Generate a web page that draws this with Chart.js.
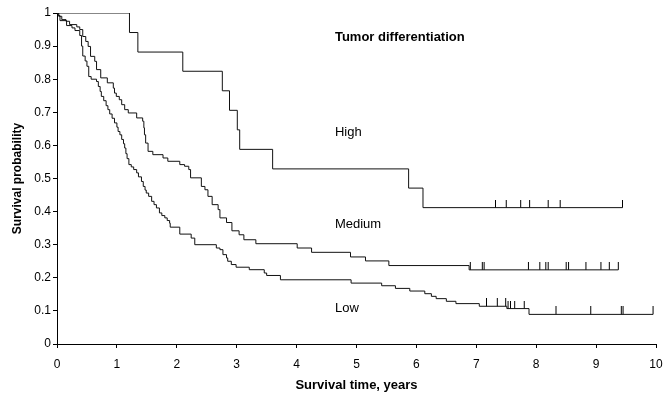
<!DOCTYPE html>
<html>
<head>
<meta charset="utf-8">
<script src="https://cdn.jsdelivr.net/npm/chart.js@4/dist/chart.umd.min.js"></script>
<style>
  html, body { margin: 0; padding: 0; background: #fff; }
  #wrap { width: 667px; height: 397px; }
</style>
</head>
<body>
<div id="wrap"><canvas id="km"></canvas></div>
<script>
// Kaplan-Meier survival estimates by tumour differentiation grade
const groups = ['High', 'Medium', 'Low'];

const highTimes = [0, 1.21, 1.35, 2.10, 2.76, 2.88, 3.01, 3.05, 3.60, 5.87, 6.11, 9.44];
const highSurv  = [1, 0.941, 0.882, 0.824, 0.765, 0.706, 0.647, 0.588, 0.529, 0.471, 0.412, 0.412];
const highCensored = [7.32, 7.50, 7.74, 7.89, 8.20, 8.40, 9.44];

const mediumTimes = [0, 0.03, 0.08, 0.15, 0.21, 0.33, 0.38, 0.43, 0.48, 0.52, 0.56, 0.63, 0.66, 0.73,
  0.84, 0.94, 0.96, 0.99, 1.04, 1.08, 1.13, 1.19, 1.33, 1.43, 1.45, 1.46, 1.48, 1.52, 1.60, 1.77,
  1.85, 2.05, 2.13, 2.20, 2.23, 2.41, 2.47, 2.52, 2.59, 2.69, 2.72, 2.83, 2.92, 3.04, 3.12, 3.32,
  4.01, 4.25, 4.90, 5.15, 5.54, 6.88, 9.37];
const mediumSurv = [1, 0.990, 0.980, 0.975, 0.965, 0.958, 0.950, 0.929, 0.914, 0.899, 0.869, 0.854, 0.829, 0.804,
  0.789, 0.773, 0.758, 0.748, 0.738, 0.723, 0.708, 0.698, 0.683, 0.673, 0.653, 0.632, 0.607, 0.582, 0.572, 0.562,
  0.552, 0.542, 0.537, 0.527, 0.502, 0.476, 0.466, 0.446, 0.421, 0.406, 0.381, 0.367, 0.342, 0.330, 0.315, 0.303,
  0.290, 0.277, 0.263, 0.251, 0.237, 0.224, 0.224];
const mediumCensored = [6.90, 7.10, 7.13, 7.87, 8.06, 8.16, 8.20, 8.50, 8.54, 8.83, 9.08, 9.22, 9.37];

const lowTimes = [0, 0.02, 0.05, 0.16, 0.25, 0.30, 0.38, 0.41, 0.43, 0.47, 0.50, 0.53, 0.57, 0.66, 0.69,
  0.72, 0.74, 0.78, 0.82, 0.85, 0.88, 0.92, 0.96, 1.00, 1.02, 1.05, 1.08, 1.11, 1.13, 1.15, 1.17,
  1.20, 1.24, 1.28, 1.33, 1.36, 1.41, 1.44, 1.47, 1.49, 1.53, 1.58, 1.62, 1.66, 1.71, 1.75, 1.80,
  1.84, 1.88, 1.89, 2.05, 2.24, 2.30, 2.66, 2.72, 2.77, 2.83, 2.85, 2.91, 2.99, 3.21, 3.46, 3.50,
  3.73, 4.91, 5.42, 5.65, 5.89, 6.14, 6.25, 6.33, 6.50, 6.66, 7.05, 7.51, 7.88, 9.95];
const lowSurv = [1, 0.992, 0.977, 0.962, 0.955, 0.947, 0.932, 0.900, 0.870, 0.855, 0.839, 0.808, 0.800, 0.793, 0.778,
  0.763, 0.748, 0.735, 0.720, 0.708, 0.695, 0.682, 0.668, 0.655, 0.642, 0.632, 0.618, 0.605, 0.592, 0.575, 0.560,
  0.542, 0.535, 0.527, 0.517, 0.505, 0.491, 0.476, 0.465, 0.456, 0.446, 0.431, 0.421, 0.411, 0.396, 0.388, 0.381,
  0.373, 0.365, 0.353, 0.332, 0.320, 0.300, 0.290, 0.285, 0.270, 0.260, 0.250, 0.240, 0.232, 0.2245, 0.2145, 0.207,
  0.194, 0.184, 0.176, 0.168, 0.160, 0.152, 0.144, 0.137, 0.129, 0.122, 0.114, 0.107, 0.0895, 0.0895];
const lowCensored = [7.17, 7.35, 7.49, 7.53, 7.57, 7.64, 7.80, 8.33, 8.91, 9.42, 9.45, 9.95];

const xTickLabels = ['0', '1', '2', '3', '4', '5', '6', '7', '8', '9', '10'];
const yTickLabels = ['0', '0.1', '0.2', '0.3', '0.4', '0.5', '0.6', '0.7', '0.8', '0.9', '1'];

// survival level of a step curve at time t
function levelAt(times, surv, t) {
  let s = surv[0];
  for (let i = 0; i < times.length; i++) {
    if (times[i] <= t) s = surv[i]; else break;
  }
  return s;
}

function curve(times, surv) {
  return times.map((t, i) => ({ x: t, y: surv[i] }));
}

function censorPoints(times, surv, cens) {
  return cens.map(t => ({ x: t, y: levelAt(times, surv, t) }));
}

// censoring mark: a short vertical stroke rising above the curve
const censorMark = document.createElement('canvas');
censorMark.width = 3;
censorMark.height = 16;
(function () {
  const c = censorMark.getContext('2d');
  c.fillStyle = '#000';
  c.fillRect(1, 0, 1, 8);
})();

const FONT = "'Liberation Sans', Arial, sans-serif";

// horizontal at the previous level, then drop at the event time
const stepLine = (label, data) => ({
  type: 'line', label, data, stepped: 'before',
  borderColor: '#111', borderWidth: 1, pointRadius: 0, fill: false, tension: 0
});
const censorSet = (label, data) => ({
  type: 'scatter', label, data, pointStyle: censorMark, pointRadius: 8,
  borderColor: '#000', backgroundColor: '#000'
});

const annotations = {
  id: 'kmText',
  afterDatasetsDraw(chart, args, opts) {
    const { ctx, scales: { x, y } } = chart;
    ctx.save();
    ctx.fillStyle = '#000';
    ctx.textBaseline = 'middle';
    ctx.textAlign = 'left';
    opts.items.forEach(it => {
      ctx.font = (it.bold ? 'bold ' : '') + '13px ' + FONT;
      ctx.fillText(it.text, x.getPixelForValue(it.x), y.getPixelForValue(it.y));
    });
    ctx.restore();
  }
};

new Chart(document.getElementById('km'), {
  data: {
    datasets: [
      stepLine(groups[0], curve(highTimes, highSurv)),
      stepLine(groups[1], curve(mediumTimes, mediumSurv)),
      stepLine(groups[2], curve(lowTimes, lowSurv)),
      censorSet(groups[0] + ' censored', censorPoints(highTimes, highSurv, highCensored)),
      censorSet(groups[1] + ' censored', censorPoints(mediumTimes, mediumSurv, mediumCensored)),
      censorSet(groups[2] + ' censored', censorPoints(lowTimes, lowSurv, lowCensored))
    ]
  },
  options: {
    responsive: true,
    maintainAspectRatio: false,
    animation: false,
    layout: { padding: { top: 13, right: 11, left: 0, bottom: 0 } },
    plugins: {
      legend: { display: false },
      tooltip: { enabled: false },
      kmText: {
        items: [
          { text: 'Tumor differentiation', x: 4.64, y: 0.925, bold: true },
          { text: groups[0], x: 4.64, y: 0.638 },
          { text: groups[1], x: 4.64, y: 0.36 },
          { text: groups[2], x: 4.64, y: 0.107 }
        ]
      }
    },
    scales: {
      x: {
        type: 'linear', min: 0, max: 10,
        afterFit(s) { s.height = 53; s.paddingLeft = 0; s.paddingRight = 0; },
        border: { display: true, color: '#000', width: 1 },
        grid: { drawOnChartArea: false, drawTicks: true, tickLength: 4, color: '#000' },
        ticks: {
          stepSize: 1, padding: 9, color: '#000', font: { family: FONT, size: 12 },
          maxRotation: 0, autoSkip: false,
          callback: (v) => xTickLabels[Math.round(v)]
        },
        title: {
          display: true, text: 'Survival time, years', color: '#000',
          font: { family: FONT, size: 13, weight: 'bold' }, padding: { top: 0, bottom: 4 }
        }
      },
      y: {
        type: 'linear', min: 0, max: 1,
        afterFit(s) { s.width = 57; s.paddingTop = 0; s.paddingBottom = 0; },
        border: { display: true, color: '#000', width: 1 },
        grid: { drawOnChartArea: false, drawTicks: true, tickLength: 4, color: '#000' },
        ticks: {
          stepSize: 0.1, padding: 2, color: '#000', font: { family: FONT, size: 12 },
          autoSkip: false,
          callback: (v) => yTickLabels[Math.round(v * 10)]
        },
        title: {
          display: true, text: 'Survival probability', color: '#000',
          font: { family: FONT, size: 12, weight: 'bold' }, padding: { top: 10, bottom: 0 }
        }
      }
    }
  },
  plugins: [annotations]
});
</script>
</body>
</html>
